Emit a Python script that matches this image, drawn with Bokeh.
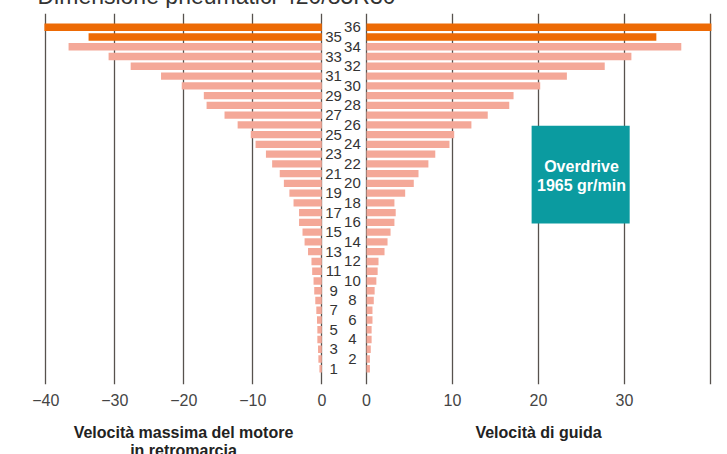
from bokeh.plotting import figure
from bokeh.layouts import row, column
from bokeh.models import Range1d, FixedTicker, BoxAnnotation, Label, ColumnDataSource
from bokeh.embed import file_html
from bokeh.resources import INLINE
from bokeh.core.properties import value

# ---------------- data ----------------
title_text = "Dimensione pneumatici 420/85R30"
gears = list(range(1, 37))
reverse_speed = [-0.35, -0.5, -0.55, -0.65, -0.65, -0.7, -0.8, -0.95, -1.1, -1.2,
                 -1.4, -1.5, -2.0, -2.5, -2.8, -3.3, -3.3, -4.1, -4.7, -5.5,
                 -6.1, -7.2, -8.1, -9.6, -10.3, -12.2, -14.1, -16.7, -17.1, -20.3,
                 -23.3, -27.7, -30.9, -36.7, -33.8, -40.2]
forward_speed = [0.4, 0.4, 0.5, 0.6, 0.6, 0.7, 0.7, 0.85, 0.95, 1.15,
                 1.3, 1.4, 2.1, 2.45, 2.8, 3.25, 3.4, 3.25, 4.5, 5.5,
                 6.05, 7.2, 8.0, 9.65, 10.2, 12.2, 14.1, 16.6, 17.1, 20.2,
                 23.3, 27.7, 30.8, 36.6, 33.7, 40.1]
highlight_gears = [35, 36]
left_ticks = [-40, -30, -20, -10, 0]
left_tick_labels = ["−40", "−30", "−20", "−10", "0"]
right_ticks = [0, 10, 20, 30]
right_tick_labels = ["0", "10", "20", "30"]
right_grid_ticks = [0, 10, 20, 30, 40]
left_axis_title = "Velocità massima del motore\nin retromarcia"
right_axis_title = "Velocità di guida"
overdrive_lines = ["Overdrive", "1965 gr/min"]

# ---------------- styles ----------------
FONT = "Liberation Sans"
ORANGE = "#ED6A05"
SALMON = "#F4A898"
TEAL = "#0B9BA0"
GRID = "#57524E"
TEXT = "#333333"

bar_colors = [ORANGE if g in highlight_gears else SALMON for g in gears]
src = ColumnDataSource(dict(gear=gears, rev=reverse_speed, fwd=forward_speed,
                            color=bar_colors, label=[str(g) for g in gears]))
odd_src = ColumnDataSource(dict(gear=[g for g in gears if g % 2 == 1],
                                label=[str(g) for g in gears if g % 2 == 1]))
even_src = ColumnDataSource(dict(gear=[g for g in gears if g % 2 == 0],
                                 label=[str(g) for g in gears if g % 2 == 0]))

Y_RANGE = (-0.618, 37.416)
BAR_H = 0.76


def base_fig(width, xr, mbl, mbr, axis_title):
    p = figure(width=width, height=454, x_range=Range1d(*xr), y_range=Range1d(*Y_RANGE),
               output_backend="svg", toolbar_location=None,
               min_border_left=mbl, min_border_right=mbr,
               min_border_top=5, min_border_bottom=73)
    p.outline_line_color = None
    p.background_fill_color = "white"
    p.border_fill_color = "white"
    p.yaxis.visible = False
    p.ygrid.visible = False
    ax = p.xaxis[0]
    ax.axis_line_color = None
    ax.major_tick_line_color = None
    ax.minor_tick_line_color = None
    ax.major_tick_out = 0
    ax.major_tick_in = 0
    ax.major_label_standoff = 9
    ax.major_label_text_font = FONT
    ax.major_label_text_font_size = "16px"
    ax.major_label_text_color = "#444444"
    ax.axis_label = axis_title
    ax.axis_label_standoff = 15
    ax.axis_label_text_font = FONT
    ax.axis_label_text_font_size = "16px"
    ax.axis_label_text_font_style = "bold"
    ax.axis_label_text_color = "#222222"
    ax.axis_label_text_line_height = 1.1
    p.xgrid.grid_line_color = GRID
    p.xgrid.grid_line_width = 1.3
    return p


# ---------- left panel (reverse) ----------
left = base_fig(335, (-43.23, 3.14), 15, 0, left_axis_title)
left.xaxis[0].ticker = FixedTicker(ticks=left_ticks)
left.xaxis[0].major_label_overrides = dict(zip(left_ticks, left_tick_labels))
left.xgrid.ticker = FixedTicker(ticks=left_ticks)
left.hbar(y="gear", left="rev", right=0, height=BAR_H, color="color", line_color=None, source=src)
left.text(x=1.7, y="gear", text="label", source=odd_src, text_align="center",
          text_baseline="middle", text_font=value(FONT), text_font_size="15px", text_color=TEXT)

# ---------- right panel (forward) ----------
right = base_fig(390, (-2.67, 42.67), 0, 0, right_axis_title)
right.xaxis[0].ticker = FixedTicker(ticks=right_ticks)
right.xaxis[0].major_label_overrides = dict(zip(right_ticks, right_tick_labels))
right.xgrid.ticker = FixedTicker(ticks=right_grid_ticks)
right.hbar(y="gear", left=0, right="fwd", height=BAR_H, color="color", line_color=None, source=src)
right.text(x=-1.63, y="gear", text="label", source=even_src, text_align="center",
           text_baseline="middle", text_font=value(FONT), text_font_size="15px", text_color=TEXT)
right.add_layout(BoxAnnotation(left=19.2, right=30.6, bottom=15.9, top=25.9,
                               fill_color=TEAL, fill_alpha=1.0, line_color=None))
for i, t in enumerate(overdrive_lines):
    right.add_layout(Label(x=25.0, y=21.74 - 1.92 * i, text=t, text_align="center",
                           text_baseline="middle", text_font=FONT, text_font_size="16px",
                           text_font_style="bold", text_color="white"))

# ---------- title strip (its top lies above the window, as in the reference) ----------
tfig = figure(width=711, height=20, x_range=Range1d(0, 711), y_range=Range1d(0, 20),
              output_backend="svg", toolbar_location=None,
              min_border_left=0, min_border_right=0, min_border_top=0, min_border_bottom=0)
tfig.axis.visible = False
tfig.grid.visible = False
tfig.outline_line_color = None
tfig.add_layout(Label(x=29, y=12.5, text=title_text, text_align="left",
                      text_baseline="alphabetic", text_font=FONT, text_font_size="23px",
                      text_color=TEXT))

layout = column(tfig, row(left, right, spacing=0), spacing=0,
                styles={"margin-top": "-12px", "margin-left": "8px",
                        "height": "466px", "width": "719px", "overflow": "hidden"})

open("out.html", "w").write(file_html(layout, INLINE))
